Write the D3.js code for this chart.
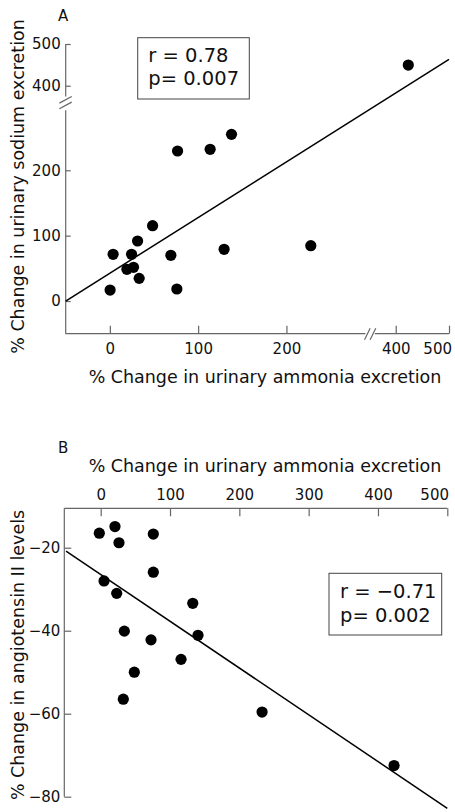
<!DOCTYPE html>
<html><head><meta charset="utf-8">
<script src="https://cdn.jsdelivr.net/npm/d3@7"></script>
<style>
html,body{margin:0;padding:0;background:#fff;}
svg{display:block;font-family:"DejaVu Sans",Lato,sans-serif;}
</style></head>
<body>
<svg id="c" width="455" height="812"></svg>
<script>
// ---------- DATA ----------
// Panel A: % change in urinary ammonia (x) vs urinary sodium (y)
const ammoniaA = [423.6, 137.8, 76.7, 113.6, 48.4, 31.4, 3.7, 24.6, 69.1, 129.4, 227.6, 19.3, 26.8, 33.2, 0.3, 75.9];
const sodiumA  = [449.6, 255.0, 229.5, 232.1, 115.2, 91.8, 71.5, 71.5, 69.9, 79.1, 84.6, 48.5, 51.6, 34.7, 16.8, 18.4];
const fitA_x = [-50, 500];
const fitA_y = [0, 463];
const xTicksA = [0, 100, 200, 400, 500];
const yTicksA = [0, 100, 200, 400, 500];
const statsA = ["r = 0.78", "p= 0.007"];

// Panel B: % change in urinary ammonia (x) vs angiotensin II (y)
const ammoniaB = [-2, 20.6, 26.4, 75.9, 75.9, 4.8, 23.1, 132.8, 34.1, 140.4, 72.6, 115.9, 48.5, 32.6, 232.8, 423.2];
const angioB   = [-16.5, -14.9, -18.8, -16.7, -25.9, -28.0, -31.0, -33.4, -40.1, -41.1, -42.2, -46.9, -50.0, -56.5, -59.6, -72.5];
const fitB_x = [-50, 500];
const fitB_y = [-20.8, -82.8];
const xTicksB = [0, 100, 200, 300, 400, 500];
const yTicksB = [-20, -40, -60, -80];
const statsB = ["r = \u22120.71", "p= 0.002"];

const xTitle = "% Change in urinary ammonia excretion";
const yTitleA = "% Change in urinary sodium excretion";
const yTitleB = "% Change in angiotensin II levels";

// ---------- DRAW ----------
const svg = d3.select("#c");
const AX = "#666";
const tickFont = 15, statFont = 19.5;

// fit title font size to the reference title width
const probe = svg.append("text").attr("font-size", 18).text(xTitle);
const titleFont = 18 * 353 / probe.node().getComputedTextLength();
probe.remove();

function styleAxis(g){
  g.attr("font-family", null).attr("font-size", null);
  g.selectAll(".domain").remove();
  g.selectAll("line").attr("stroke", AX).attr("stroke-width", 1.2);
  g.selectAll("text").attr("font-size", tickFont).attr("fill", "#111");
}
function shiftLast(g, rightEdge){
  g.selectAll(".tick").filter(d=>d===500).select("text")
    .attr("text-anchor","end").attr("x", function(){
      const t = d3.select(this.parentNode).attr("transform");
      const tx = +t.match(/translate\(([-\d.]+)/)[1];
      return rightEdge - tx;
    });
}

// ===== Panel A =====
const xA = d3.scaleLinear().domain([-50, 290, 360, 500]).range([65.7, 365.9, 374.4, 449]);
const yA = d3.scaleLinear().domain([-50, 295, 373, 500]).range([333.7, 108.2, 97, 44]);
const gA = svg.append("g");

const axA = gA.append("g").attr("stroke", AX).attr("stroke-width", 1.2).attr("fill", "none");
axA.append("line").attr("x1", xA(-50)).attr("x2", xA(-50)).attr("y1", yA(-50)).attr("y2", yA(295)+2);
axA.append("line").attr("x1", xA(-50)).attr("x2", xA(-50)).attr("y1", yA(373)-0.5).attr("y2", yA(500));
axA.append("line").attr("x1", xA(-50)).attr("x2", xA(290)-0.5).attr("y1", yA(-50)).attr("y2", yA(-50));
axA.append("line").attr("x1", xA(360)+0.5).attr("x2", xA(500)).attr("y1", yA(-50)).attr("y2", yA(-50));
const yb = (yA(295)+yA(373))/2, xb = (xA(290)+xA(360))/2;
[-2.8, 2.8].forEach(o=>{
  axA.append("line").attr("x1", xA(-50)-6.3).attr("x2", xA(-50)+6).attr("y1", yb+o+3.3).attr("y2", yb+o-3.3);
  axA.append("line").attr("x1", xb+o-2.8).attr("x2", xb+o+2.8).attr("y1", yA(-50)+6).attr("y2", yA(-50)-5.5);
});

gA.append("g").attr("transform", `translate(0,${yA(-50)})`)
  .call(d3.axisBottom(xA).tickValues(xTicksA).tickSizeInner(-8).tickSizeOuter(0).tickPadding(10).tickFormat(d3.format("d")))
  .call(styleAxis).call(g=>shiftLast(g, 452));
gA.append("g").attr("transform", `translate(${xA(-50)},0)`)
  .call(d3.axisLeft(yA).tickValues(yTicksA).tickSizeInner(-5).tickSizeOuter(0).tickPadding(5).tickFormat(d3.format("d")))
  .call(styleAxis);

gA.append("line").attr("x1", xA(fitA_x[0])).attr("y1", yA(fitA_y[0]))
  .attr("x2", xA(fitA_x[1])).attr("y2", yA(fitA_y[1])).attr("stroke", "#000").attr("stroke-width", 1.5);

gA.append("g").selectAll("circle").data(ammoniaA.map((d,i)=>[d, sodiumA[i]])).join("circle")
  .attr("cx", d=>xA(d[0])).attr("cy", d=>yA(d[1])).attr("r", 5.6).attr("fill", "#000");

gA.append("rect").attr("x", 137.7).attr("y", 37.7).attr("width", 111.6).attr("height", 61.3)
  .attr("fill", "#fff").attr("stroke", "#444").attr("stroke-width", 1);
gA.selectAll("text.stat").data(statsA).join("text").attr("class","stat")
  .attr("x", 148.3).attr("y", (d,i)=>61.7 + i*23.3).attr("font-size", statFont).attr("fill","#111").text(d=>d);

gA.append("text").attr("x", 58).attr("y", 20.7).attr("font-size", 15).attr("fill","#111").text("A");
gA.append("text").attr("x", 265).attr("y", 383).attr("text-anchor","middle").attr("font-size", titleFont).attr("fill","#111").text(xTitle);
gA.append("text").attr("transform", "translate(24,186.5) rotate(-90)").attr("text-anchor","middle")
  .attr("font-size", titleFont).attr("fill","#111").text(yTitleA);

// ===== Panel B =====
const xB = d3.scaleLinear().domain([-52.5, 500]).range([64.3, 447.3]);
const yB = d3.scaleLinear().domain([-10.5, -80]).range([508.3, 796.7]);
const gB = svg.append("g");

gB.append("line").attr("x1", xB(-52.5)).attr("x2", xB(500)).attr("y1", yB(-10.5)).attr("y2", yB(-10.5)).attr("stroke", AX).attr("stroke-width", 1.2);
gB.append("line").attr("x1", xB(-52.5)).attr("x2", xB(-52.5)).attr("y1", yB(-10.5)).attr("y2", yB(-80)).attr("stroke", AX).attr("stroke-width", 1.2);

gB.append("g").attr("transform", `translate(0,${yB(-10.5)})`)
  .call(d3.axisTop(xB).tickValues(xTicksB).tickSizeInner(-8).tickSizeOuter(0).tickPadding(8).tickFormat(d3.format("d")))
  .call(styleAxis).call(g=>shiftLast(g, 449));
gB.append("g").attr("transform", `translate(${xB(-52.5)},0)`)
  .call(d3.axisLeft(yB).tickValues(yTicksB).tickSizeInner(-7).tickSizeOuter(0).tickPadding(4).tickFormat(d3.format("d")))
  .call(styleAxis);

gB.append("line").attr("x1", xB(fitB_x[0])).attr("y1", yB(fitB_y[0]))
  .attr("x2", xB(fitB_x[1])).attr("y2", yB(fitB_y[1])).attr("stroke", "#000").attr("stroke-width", 1.5);

gB.append("g").selectAll("circle").data(ammoniaB.map((d,i)=>[d, angioB[i]])).join("circle")
  .attr("cx", d=>xB(d[0])).attr("cy", d=>yB(d[1])).attr("r", 5.6).attr("fill", "#000");

gB.append("rect").attr("x", 329).attr("y", 573.3).attr("width", 112.7).attr("height", 61.7)
  .attr("fill", "#fff").attr("stroke", "#444").attr("stroke-width", 1);
gB.selectAll("text.stat").data(statsB).join("text").attr("class","stat")
  .attr("x", 340).attr("y", (d,i)=>597.7 + i*24).attr("font-size", statFont).attr("fill","#111").text(d=>d);

gB.append("text").attr("x", 58).attr("y", 453.3).attr("font-size", 15).attr("fill","#111").text("B");
gB.append("text").attr("x", 265).attr("y", 471.7).attr("text-anchor","middle").attr("font-size", titleFont).attr("fill","#111").text(xTitle);
gB.append("text").attr("transform", "translate(24,655) rotate(-90)").attr("text-anchor","middle")
  .attr("font-size", titleFont).attr("fill","#111").text(yTitleB);
</script>
</body></html>
